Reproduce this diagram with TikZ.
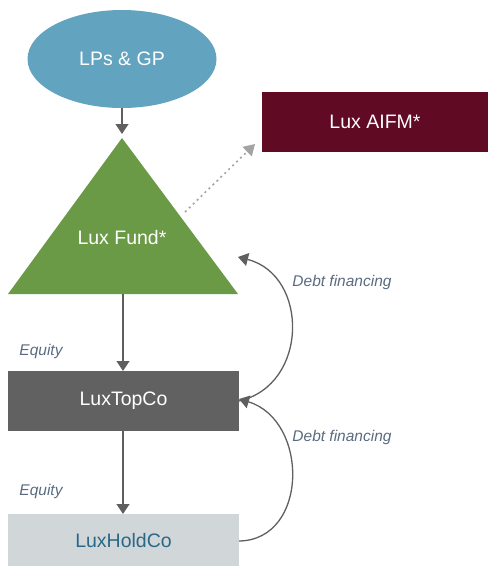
\documentclass[tikz,border=0pt]{standalone}
\usepackage{fontspec}
\setmainfont{Liberation Sans}
\usetikzlibrary{arrows.meta,shapes.geometric}
\definecolor{lpblue}{HTML}{62A3BF}
\definecolor{fundgreen}{HTML}{6A9A45}
\definecolor{aifmred}{HTML}{600A24}
\definecolor{topgray}{HTML}{616161}
\definecolor{holdgray}{HTML}{D1D6D9}
\definecolor{holdtext}{HTML}{2A6888}
\definecolor{arrgray}{HTML}{5F5F5F}
\definecolor{dotgray}{HTML}{A3A3A3}
\definecolor{lbl}{HTML}{5A6B80}
\begin{document}
\begin{tikzpicture}[x=1pt,y=-1pt,
  mainlbl/.style={font=\fontsize{19.5}{21}\selectfont},
  boxnode/.style={rectangle, inner sep=0pt, outer sep=0pt, mainlbl},
  arr/.style={draw=arrgray, line width=1.3pt, -{Triangle[width=13pt,length=10pt]}},
  dotarr/.style={draw=dotgray, line width=1.6pt, dash pattern=on 2pt off 3.5pt, -{Triangle[width=13pt,length=11pt]}},
  elbl/.style={font=\fontsize{15.5}{17}\selectfont\itshape, text=lbl}]
\clip (0,0) rectangle (488,566);
\node[ellipse, fill=lpblue, minimum width=189, minimum height=98, inner sep=0pt, mainlbl, text=white] (lp) at (122,59) {LPs \& GP};
\coordinate (fundtop) at (122,138);
\coordinate (fundright) at (238,294);
\coordinate (fundleft) at (8,294);
\coordinate (fundbase) at (123,294);
\fill[fundgreen] (fundtop) -- (fundright) -- (fundleft) -- cycle;
\node[mainlbl, text=white] (fund) at (122,238) {Lux Fund*};
\node[boxnode, fill=aifmred, minimum width=226, minimum height=60, text=white] (aifm) at (375,122) {Lux AIFM*};
\node[boxnode, fill=topgray, minimum width=231, minimum height=60, text=white] (top) at (123.5,401) {LuxTopCo};
\node[boxnode, fill=holdgray, minimum width=231, minimum height=54, text=holdtext] (hold) at (123.5,541) {LuxHoldCo};
\draw[arr, shorten >=4pt] (lp.south) -- (fundtop);
\coordinate (dotstart) at (185,212);
\coordinate (dotend) at (255,144);
\draw[dotarr] (dotstart) -- (dotend);
\draw[arr] (fundbase) -- (fundbase |- top.north);
\draw[arr] (fundbase |- top.south) -- (fundbase |- hold.north);
\coordinate (debtend) at (238,257);
\draw[arr] (top.east) .. controls (309,385) and (309,275) .. (debtend);
\draw[arr] (hold.east) .. controls (309,540) and (309,420) .. ([yshift=2pt]top.east);
\node[elbl] (eq1) at (41,351) {Equity};
\node[elbl] (eq2) at (41,491) {Equity};
\node[elbl] (debt1) at (342,282) {Debt financing};
\node[elbl] (debt2) at (342,437) {Debt financing};
\end{tikzpicture}
\end{document}
